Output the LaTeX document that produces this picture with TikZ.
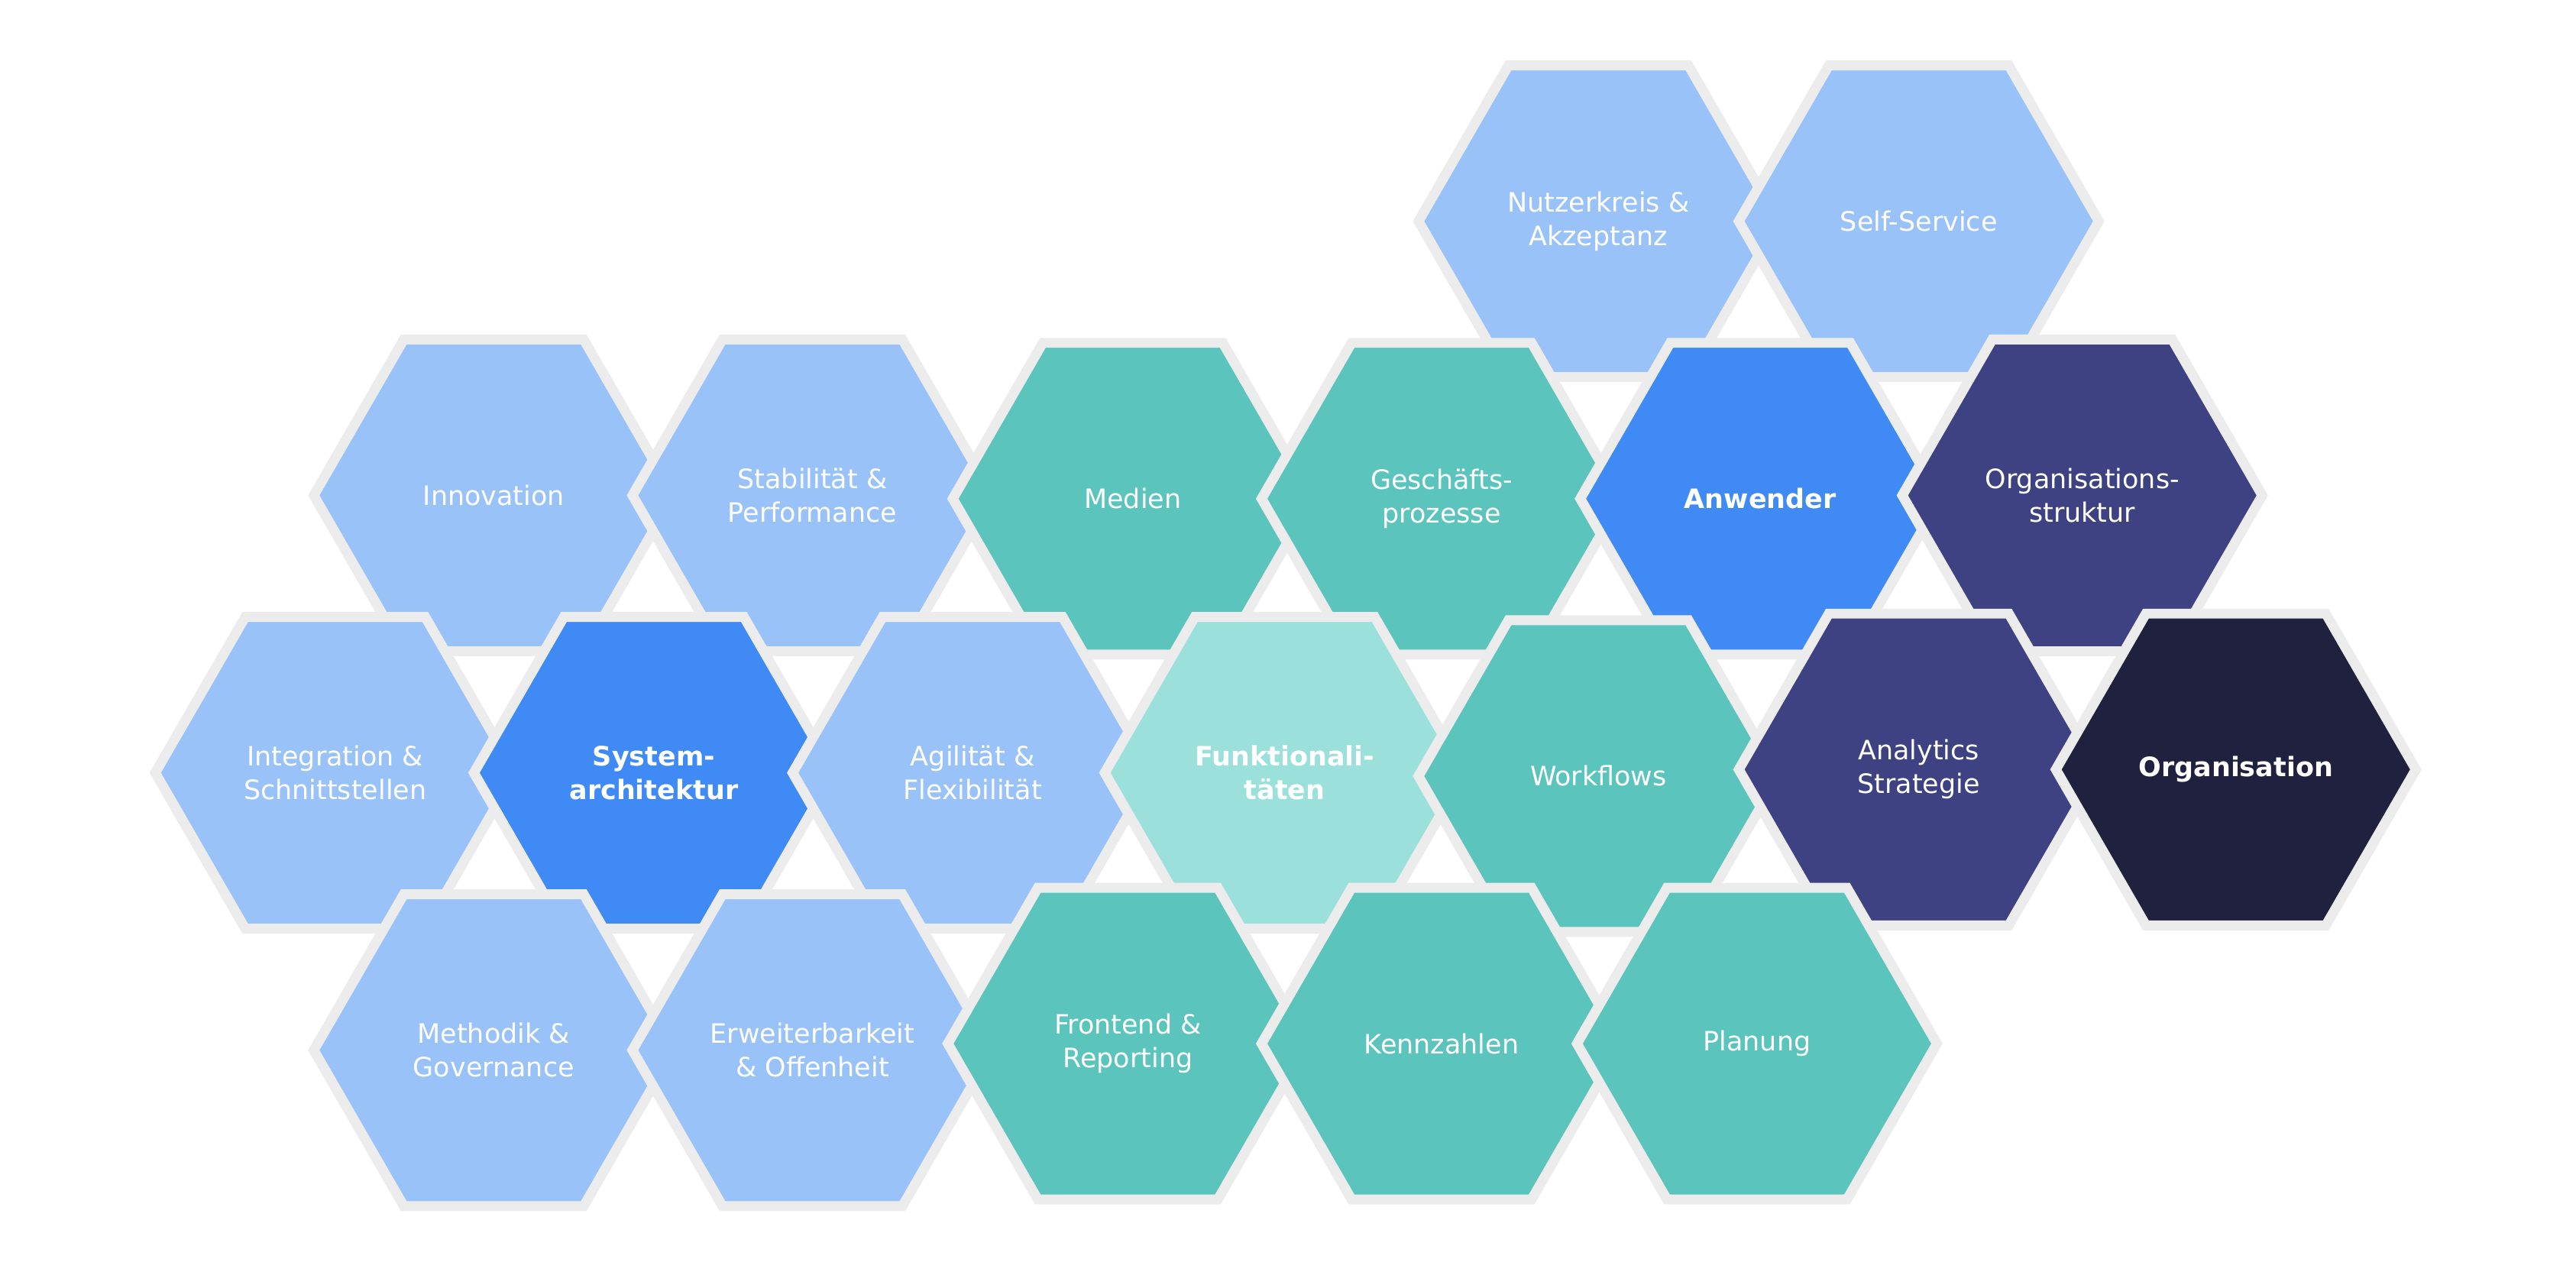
\documentclass[tikz,border=0pt]{standalone}
\usepackage{fontspec}
\setmainfont{DejaVu Sans}
\usetikzlibrary{shapes.geometric}
\definecolor{lightblue}{HTML}{99C2F9}
\definecolor{midblue}{HTML}{3F8AF5}
\definecolor{teal}{HTML}{5BC4BC}
\definecolor{lightteal}{HTML}{9BE0DB}
\definecolor{navy}{HTML}{3E4282}
\definecolor{darknavy}{HTML}{20203F}
\definecolor{rim}{HTML}{ECECEC}
\begin{document}
\begin{tikzpicture}[x=0.05cm,y=-0.05cm,
    hex/.style={regular polygon,regular polygon sides=6,minimum size=10.9cm,
      inner sep=0pt,draw=rim,line width=0.3cm,text=white,align=center,
      font=\fontsize{23}{29}\selectfont},
    key/.style={hex,font=\fontsize{23}{29}\selectfont\bfseries}]
    \useasboundingbox (0,0) rectangle (1560,780);
    % top row
      \node[hex,fill=lightblue] (nutzer) at (968,134) {Nutzerkreis \&\\Akzeptanz};
      \node[hex,fill=lightblue] (self) at (1162,134) {Self-Service};
    % second row
      \node[hex,fill=lightblue] (innov) at (299,300) {Innovation};
      \node[hex,fill=lightblue] (stab) at (492,300) {Stabilität \&\\Performance};
      \node[hex,fill=teal] (medien) at (686,302) {Medien};
      \node[hex,fill=teal] (gp) at (873,302) {Geschäfts-\\prozesse};
      \node[key,fill=midblue] (anw) at (1066,302) {Anwender};
      \node[hex,fill=navy] (orgstr) at (1261,300) {Organisations-\\struktur};
    % middle row
      \node[hex,fill=lightblue] (integ) at (203,468) {Integration \&\\Schnittstellen};
      \node[key,fill=midblue] (sys) at (396,468) {System-\\architektur};
      \node[hex,fill=lightblue] (agil) at (589,468) {Agilität \&\\Flexibilität};
      \node[key,fill=lightteal] (funk) at (778,468) {Funktionali-\\täten};
      \node[hex,fill=teal] (work) at (968,470) {Workflows};
      \node[hex,fill=navy] (anal) at (1162,466) {Analytics\\Strategie};
      \node[key,fill=darknavy] (org) at (1354,466) {Organisation};
    % bottom row
      \node[hex,fill=lightblue] (meth) at (299,636) {Methodik \&\\Governance};
      \node[hex,fill=lightblue] (erw) at (492,636) {Erweiterbarkeit\\\& Offenheit};
      \node[hex,fill=teal] (front) at (683,632) {Frontend \&\\Reporting};
      \node[hex,fill=teal] (kenn) at (873,632) {Kennzahlen};
      \node[hex,fill=teal] (plan) at (1064,632) {Planung};
\end{tikzpicture}
\end{document}
